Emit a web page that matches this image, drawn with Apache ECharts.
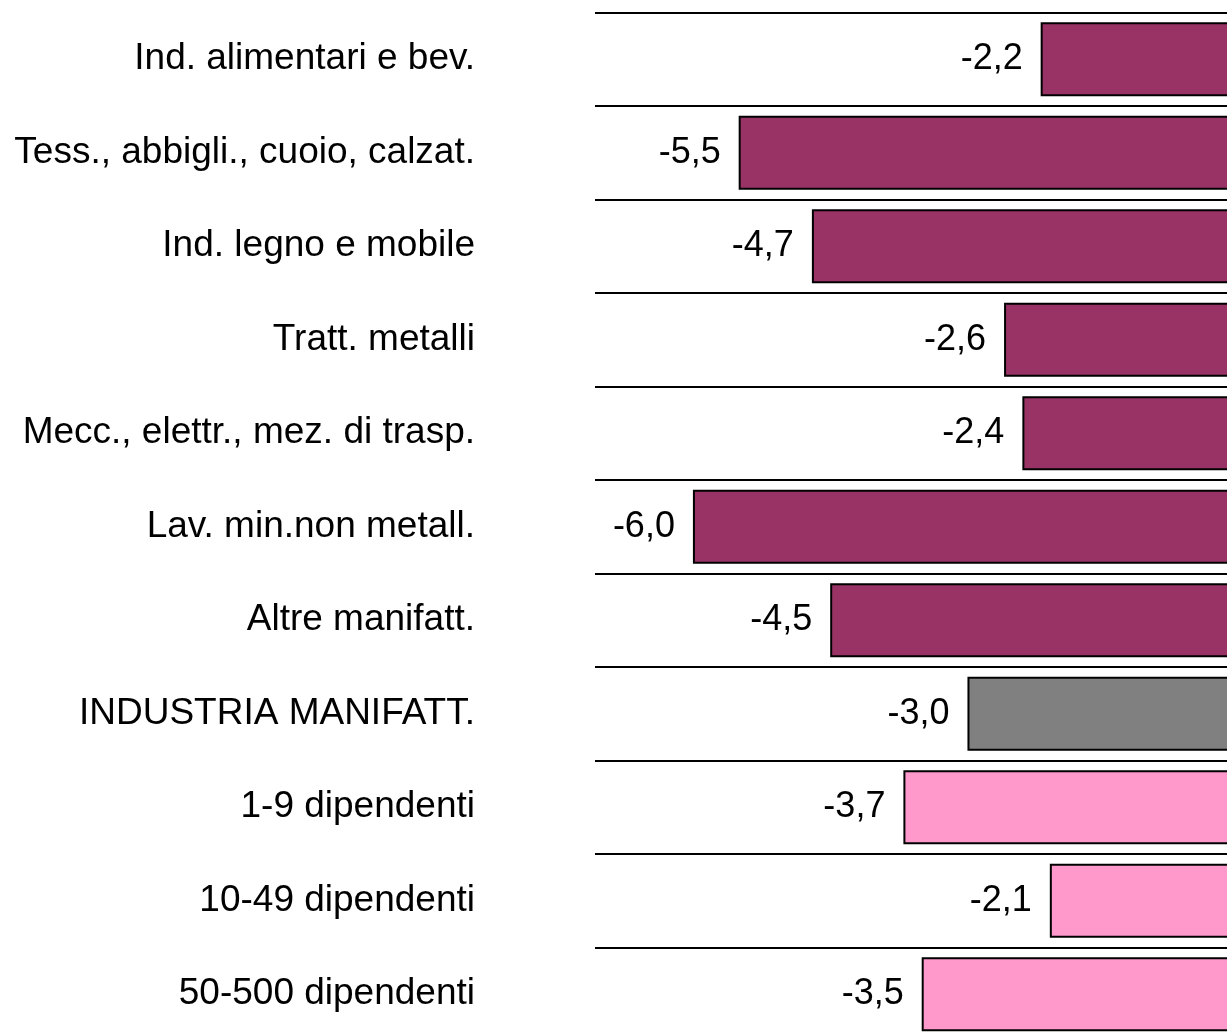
<!DOCTYPE html>
<html>
<head>
<meta charset="utf-8">
<title>Variazioni per settore e dimensione</title>
<script src="https://cdn.jsdelivr.net/npm/echarts@6/dist/echarts.min.js"></script>
<style>
  html, body { margin: 0; padding: 0; background: #fff; }
  #bar1 { width: 1227px; height: 1035px; }
</style>
</head>
<body>
<div id="bar1"></div>
<script>
// categorie, dall'alto verso il basso
const categories = [
  'Ind. alimentari e bev.',
  'Tess., abbigli., cuoio, calzat.',
  'Ind. legno e mobile',
  'Tratt. metalli',
  'Mecc., elettr., mez. di trasp.',
  'Lav. min.non metall.',
  'Altre manifatt.',
  'INDUSTRIA MANIFATT.',
  '1-9 dipendenti',
  '10-49 dipendenti',
  '50-500 dipendenti'
]
const values = [-2.2, -5.5, -4.7, -2.6, -2.4, -6.0, -4.5, -3.0, -3.7, -2.1, -3.5]
// tipo di riga: settore, totale, classe dimensionale
const groups = ['sett', 'sett', 'sett', 'sett', 'sett', 'sett', 'sett', 'tot', 'dim', 'dim', 'dim']

const groupColors = {
  sett: '#993366',
  tot: '#808080',
  dim: '#FF99CC'
}
const font = '"Liberation Sans", Arial, Helvetica, sans-serif'

const chart = echarts.init(document.getElementById('bar1'))
const option = {
  animation: false,
  grid: {
    left: 595,
    top: 12.5,
    width: 647,
    height: 1028.5,
    containLabel: false,
    outerBoundsMode: 'none'
  },
  xAxis: {
    type: 'value',
    min: -7.07,
    max: 0,
    axisLine: { show: false },
    axisTick: { show: false },
    axisLabel: { show: false },
    splitLine: { show: false }
  },
  yAxis: {
    type: 'category',
    inverse: true,
    data: categories,
    axisLine: { show: false },
    axisTick: { show: false },
    axisLabel: {
      margin: 120,
      fontSize: 37,
      fontFamily: font,
      color: '#000'
    },
    splitLine: {
      show: true,
      lineStyle: { color: '#000', width: 2 }
    }
  },
  series: [
    {
      type: 'bar',
      barCategoryGap: '21%',
      data: values.map((v, i) => ({
        value: v,
        itemStyle: { color: groupColors[groups[i]] }
      })),
      itemStyle: {
        borderColor: '#000',
        borderWidth: 2
      },
      label: {
        show: true,
        position: 'left',
        distance: 18,
        fontSize: 36,
        fontFamily: font,
        color: '#000',
        formatter: p => p.value.toFixed(1).replace('.', ',')
      }
    }
  ]
}
chart.setOption(option)
</script>
</body>
</html>
